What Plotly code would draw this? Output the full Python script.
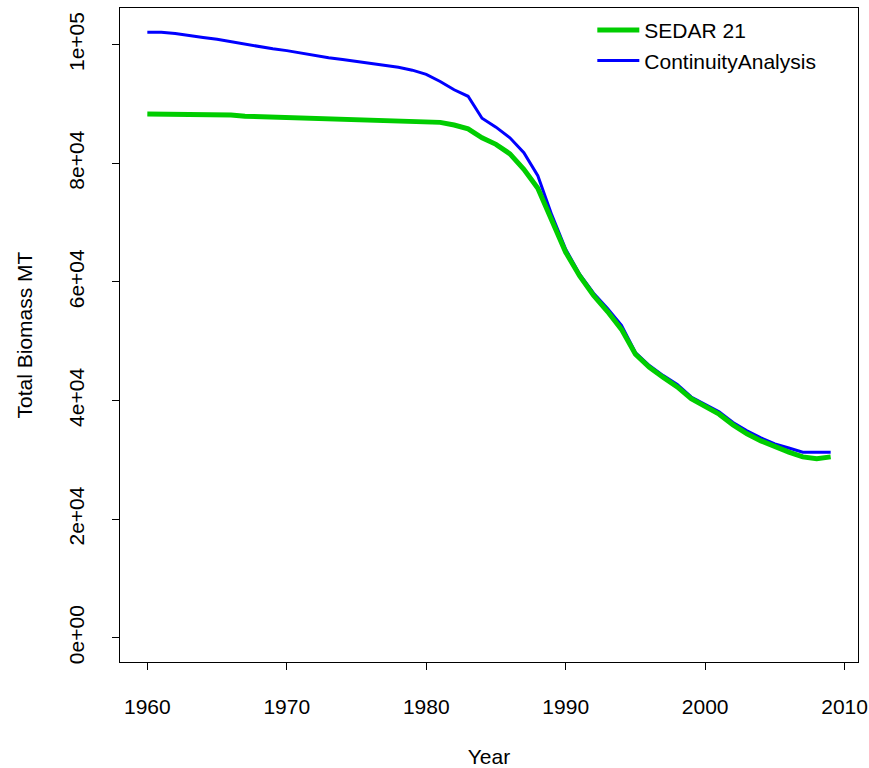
import plotly.graph_objects as go

# Annual total biomass (metric tons), 1960-2009
years = list(range(1960, 2010))

sedar21 = [
    88300, 88280, 88260, 88240, 88220, 88200, 88150, 87950, 87880, 87850,
    87820, 87700, 87580, 87550, 87500, 87400, 87300, 87250, 87150, 87050,
    87000, 86900, 86450, 85800, 84300, 83200, 81600, 79000, 75800, 70500,
    65000, 61000, 57700, 55000, 52000, 47800, 45600, 43900, 42300, 40300,
    39000, 37700, 35900, 34400, 33200, 32200, 31300, 30500, 30200, 30500,
]

continuity = [
    102100, 102100, 101900, 101500, 101200, 100900, 100500, 100000, 99700, 99300,
    99000, 98600, 98100, 97800, 97500, 97200, 96900, 96600, 96200, 95700,
    95000, 93800, 92400, 91300, 87600, 86100, 84300, 81800, 77900, 71300,
    65500, 61300, 58100, 55500, 52700, 48100, 45900, 44200, 42700, 40600,
    39300, 38100, 36300, 34900, 33700, 32700, 32000, 31300, 31300, 31300,
]

x_ticks = [1960, 1970, 1980, 1990, 2000, 2010]
y_ticks = [0, 20000, 40000, 60000, 80000, 100000]
y_tick_text = ["0e+00", "2e+04", "4e+04", "6e+04", "8e+04", "1e+05"]

FONT = "Liberation Sans, Arial, sans-serif"
FS = 21

fig = go.Figure()

fig.add_trace(go.Scatter(
    x=years, y=continuity, mode="lines", name="ContinuityAnalysis",
    line=dict(color="#0000FF", width=3), legendrank=2,
))
fig.add_trace(go.Scatter(
    x=years, y=sedar21, mode="lines", name="SEDAR 21",
    line=dict(color="#00CD00", width=5), legendrank=1,
))

# R-style 4% padding around the data range
x_lo, x_hi = 1960, 2009
x_pad = (x_hi - x_lo) * 0.04
y_lo, y_hi = 0, max(continuity)
y_pad = (y_hi - y_lo) * 0.04

fig.update_layout(
    width=869, height=768,
    margin=dict(l=120, r=11, t=8, b=106),
    paper_bgcolor="white", plot_bgcolor="white",
    font=dict(family=FONT, size=FS, color="#000000"),
    showlegend=True,
    legend=dict(
        x=0.64, y=0.997, xanchor="left", yanchor="top",
        bgcolor="rgba(0,0,0,0)", borderwidth=0,
        font=dict(family=FONT, size=FS, color="#000000"),
        tracegroupgap=0, itemwidth=42,
    ),
    xaxis=dict(
        range=[x_lo - x_pad, x_hi + x_pad],
        tickmode="array", tickvals=x_ticks,
        ticks="outside", ticklen=7, tickwidth=1, tickcolor="black",
        showline=True, linecolor="black", linewidth=1, mirror=True,
        showgrid=False, zeroline=False, automargin=False,
        ticklabelstandoff=19,
        title=dict(text="Year", standoff=34, font=dict(family=FONT, size=FS)),
    ),
    yaxis=dict(
        range=[y_lo - y_pad, y_hi + y_pad],
        tickmode="array", tickvals=y_ticks, ticktext=y_tick_text,
        tickangle=-90,
        ticks="outside", ticklen=7, tickwidth=1, tickcolor="black",
        showline=True, linecolor="black", linewidth=1, mirror=True,
        showgrid=False, zeroline=False, automargin=False,
        ticklabelstandoff=20,
        title=dict(text="Total Biomass MT", standoff=26, font=dict(family=FONT, size=FS)),
    ),
)

fig.write_html("out.html")
